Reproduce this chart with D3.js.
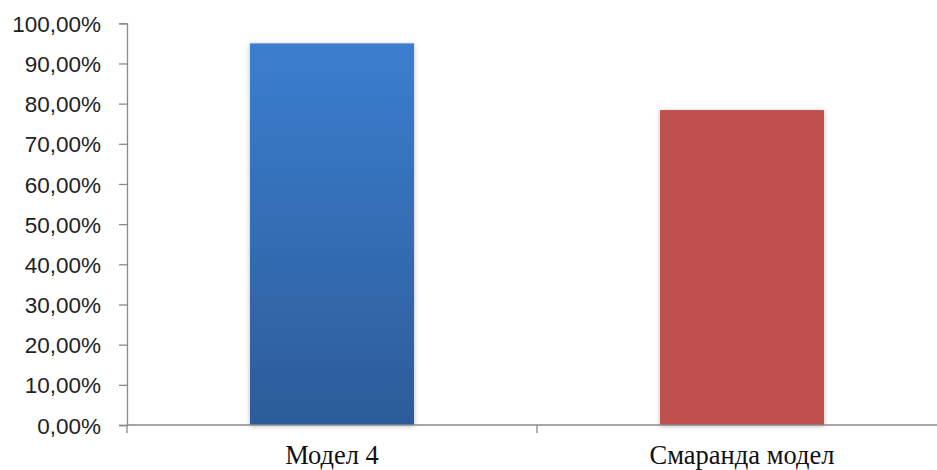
<!DOCTYPE html>
<html>
<head>
<meta charset="utf-8">
<script src="https://cdn.jsdelivr.net/npm/d3@7"></script>
<style>
  html, body { margin: 0; padding: 0; background: #fff; }
  svg { display: block; }
</style>
</head>
<body>
<svg id="chart" width="937" height="470"></svg>
<script>
// Categories and their percentage values
const categories = ["Модел 4", "Смаранда модел"];
const values = [0.95, 0.784];
const yTicks = [0, 0.1, 0.2, 0.3, 0.4, 0.5, 0.6, 0.7, 0.8, 0.9, 1.0];

const svg = d3.select("#chart");
const plotLeft = 127, plotRight = 947, plotTop = 23.3, plotBottom = 425;

const x = d3.scaleBand().domain(categories).range([plotLeft, plotRight]).paddingInner(0.6).paddingOuter(0.3);
const y = d3.scaleLinear().domain([0, 1]).range([plotBottom, plotTop]);

const fmt = v => d3.format(".2f")(v * 100).replace(".", ",") + "%";

const defs = svg.append("defs");
const grad = defs.append("linearGradient").attr("id", "blueGrad")
  .attr("x1", 0).attr("y1", 0).attr("x2", 0).attr("y2", 1);
grad.append("stop").attr("offset", "0%").attr("stop-color", "#3b7ecf");
grad.append("stop").attr("offset", "100%").attr("stop-color", "#2c5c99");

const shadow = defs.append("filter").attr("id", "shadow")
  .attr("x", "-10%").attr("y", "-10%").attr("width", "120%").attr("height", "120%");
shadow.append("feDropShadow").attr("dx", 0).attr("dy", 1).attr("stdDeviation", 2.5)
  .attr("flood-color", "#000").attr("flood-opacity", 0.28);

const fills = ["url(#blueGrad)", "#c0504d"];

// Bars
svg.append("g").selectAll("rect").data(values).join("rect")
  .attr("x", (d, i) => x(categories[i]))
  .attr("width", x.bandwidth())
  .attr("y", d => y(d))
  .attr("height", d => y(0) - y(d))
  .attr("fill", (d, i) => fills[i])
  .attr("filter", "url(#shadow)");

// Y axis
const yAxis = svg.append("g").attr("transform", `translate(${plotLeft},0)`)
  .call(d3.axisLeft(y).tickValues(yTicks).tickFormat(fmt).tickSizeOuter(0).tickSize(8).tickPadding(18));
yAxis.select(".domain").attr("stroke", "#898989").attr("stroke-width", 1.3);
yAxis.selectAll(".tick line").attr("stroke", "#898989").attr("stroke-width", 1.3);
yAxis.selectAll("text")
  .attr("font-family", "'Liberation Sans', Arial, sans-serif")
  .attr("font-size", 22.5)
  .attr("fill", "#222")
  .attr("dy", "0.36em");

// X axis with boundary ticks between categories
const bandEdges = [plotLeft, (plotLeft + plotRight) / 2, plotRight];
const xg = svg.append("g");
xg.append("line").attr("x1", plotLeft).attr("x2", plotRight).attr("y1", plotBottom).attr("y2", plotBottom)
  .attr("stroke", "#898989").attr("stroke-width", 1.3);
xg.selectAll("line.tk").data(bandEdges).join("line").attr("class", "tk")
  .attr("x1", d => d).attr("x2", d => d).attr("y1", plotBottom).attr("y2", plotBottom + 8)
  .attr("stroke", "#898989").attr("stroke-width", 1.3);
xg.selectAll("text").data(categories).join("text")
  .attr("x", d => x(d) + x.bandwidth() / 2)
  .attr("y", 464)
  .attr("text-anchor", "middle")
  .attr("font-family", "'Liberation Serif', 'Times New Roman', serif")
  .attr("font-size", 26.5)
  .attr("fill", "#111")
  .text(d => d);
</script>
</body>
</html>
